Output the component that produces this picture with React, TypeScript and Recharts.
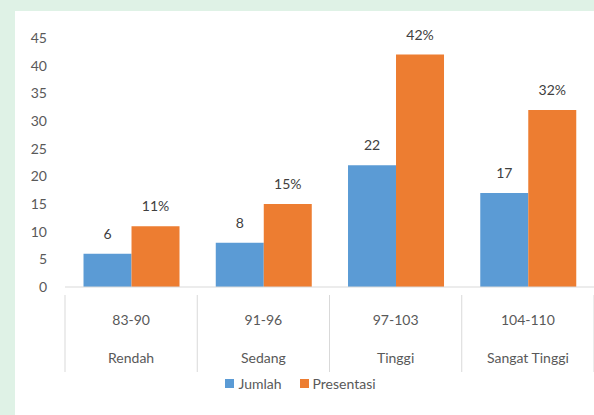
import { BarChart, Bar, XAxis, YAxis, Legend, LabelList } from 'recharts';

const ranges = ['83-90', '91-96', '97-103', '104-110'];
const levels = ['Rendah', 'Sedang', 'Tinggi', 'Sangat Tinggi'];
const jumlah = [6, 8, 22, 17];
const presentasi = [11, 15, 42, 32];
const yTicks = [0, 5, 10, 15, 20, 25, 30, 35, 40, 45];

const data = ranges.map((r, i) => ({
  range: r,
  level: levels[i],
  jumlah: jumlah[i],
  presentasi: presentasi[i],
}));

const W = 594;
const H = 415;
const LEFT = 65;
const BAND = (W - LEFT) / ranges.length;
const TEXT = '#595959';
const GRID = '#d9d9d9';
const BLUE = '#5b9bd5';
const ORANGE = '#ed7d31';
const FONT = 'Lato, "Liberation Sans", sans-serif';

function CategoryTick(props: any) {
  const { x, y, payload, index } = props;
  const left = x - BAND / 2;
  const right = x + BAND / 2;
  return (
    <g>
      <line x1={left} y1={y} x2={left} y2={y + 77} stroke={GRID} />
      {index === ranges.length - 1 && <line x1={right} y1={y} x2={right} y2={y + 77} stroke={GRID} />}
      <text x={x} y={y + 30} textAnchor="middle" fill={TEXT} fontSize={14} fontFamily={FONT}>
        {payload.value}
      </text>
      <text x={x} y={y + 68} textAnchor="middle" fill={TEXT} fontSize={14} fontFamily={FONT}>
        {levels[index]}
      </text>
    </g>
  );
}

function LegendContent() {
  const items = [
    { name: 'Jumlah', color: BLUE },
    { name: 'Presentasi', color: ORANGE },
  ];
  return (
    <div style={{ display: 'flex', justifyContent: 'center', height: 20, alignItems: 'center', paddingLeft: 10 }}>
      {items.map((it) => (
        <div key={it.name} style={{ display: 'flex', alignItems: 'center', marginRight: 18 }}>
          <span style={{ width: 9, height: 9, background: it.color, display: 'inline-block', marginRight: 4 }} />
          <span style={{ fontSize: 14, color: TEXT, fontFamily: FONT }}>{it.name}</span>
        </div>
      ))}
    </div>
  );
}

export default function App() {
  return (
    <div style={{ position: 'fixed', top: 0, left: 0, width: W, height: H, background: '#dff2e6' }}>
      <div style={{ position: 'absolute', left: 15, top: 11, right: 0, bottom: 0, background: '#fff' }} />
      <div style={{ position: 'absolute', left: 0, top: 0 }}>
        <BarChart
          width={W}
          height={H}
          data={data}
          margin={{ top: 38, right: 0, left: 15, bottom: 22 }}
          barCategoryGap="14%"
          barGap={0}
        >
          <XAxis
            dataKey="range"
            height={86}
            axisLine={{ stroke: GRID }}
            tickLine={false}
            interval={0}
            tick={<CategoryTick />}
          />
          <YAxis
            width={50}
            domain={[0, 45]}
            ticks={yTicks}
            axisLine={false}
            tickLine={false}
            tickMargin={12}
            tick={{ fontSize: 14, fill: TEXT, fontFamily: FONT }}
          />
          <Legend verticalAlign="bottom" content={<LegendContent />} />
          <Bar dataKey="jumlah" name="Jumlah" fill={BLUE} isAnimationActive={false}>
            <LabelList dataKey="jumlah" position="top" offset={15} fill="#404040" fontSize={14} fontFamily={FONT} />
          </Bar>
          <Bar dataKey="presentasi" name="Presentasi" fill={ORANGE} isAnimationActive={false}>
            <LabelList
              dataKey="presentasi"
              position="top"
              offset={15}
              fill="#404040"
              fontSize={14}
              fontFamily={FONT}
              formatter={(v: any) => `${v}%`}
            />
          </Bar>
        </BarChart>
      </div>
    </div>
  );
}
